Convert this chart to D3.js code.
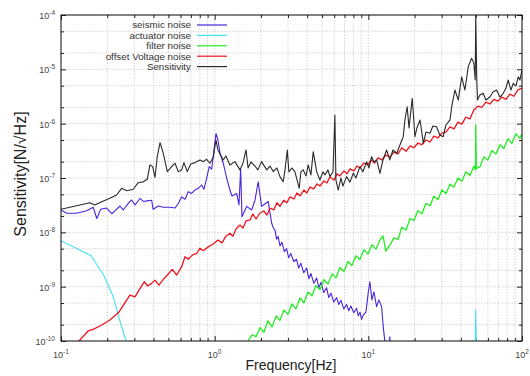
<!DOCTYPE html>
<html>
<head>
<meta charset="utf-8">
<script src="https://cdnjs.cloudflare.com/ajax/libs/d3/7.8.5/d3.min.js"></script>
<style>
  body { margin: 0; background: #fff; }
  svg { display: block; font-family: "Liberation Sans", Arial, sans-serif; }
</style>
</head>
<body>
<div id="chart"></div>
<script>
// series, [frequency Hz, N/rtHz]
const seismic = [[0.1,2.58e-8],[0.109,2.24e-8],[0.126,2.24e-8],[0.147,2.5e-8],[0.162,2.9e-8],[0.171,1.8e-8],[0.181,2.65e-8],[0.198,2.8e-8],[0.214,2.2e-8],[0.225,2.5e-8],[0.242,3.05e-8],[0.254,2.58e-8],[0.274,3.4e-8],[0.288,3.94e-8],[0.303,3.2e-8],[0.327,4.2e-8],[0.343,3.7e-8],[0.364,3.8e-8],[0.389,3.9e-8],[0.398,2.65e-8],[0.430,3.05e-8],[0.463,2.9e-8],[0.512,2.9e-8],[0.552,2.8e-8],[0.58,3.4e-8],[0.61,4.5e-8],[0.641,4.06e-8],[0.673,5.6e-8],[0.708,5.2e-8],[0.744,6.0e-8],[0.782,6.5e-8],[0.823,7.4e-8],[0.851,6.2e-8],[0.887,9.9e-8],[0.922,1.62e-7],[0.956,1.45e-7],[0.99,3.3e-7],
  [1.02,6.6e-7],[1.05,5.0e-7],[1.083,2.9e-7],[1.137,1.87e-7],[1.197,1.0e-7],[1.257,6.0e-8],[1.296,4.67e-8],[1.39,5.2e-8],[1.44,3.2e-8],[1.476,1.5e-7],[1.505,1.94e-8],[1.615,3.0e-8],[1.74,2.58e-8],[1.83,3.9e-8],[1.92,8.5e-8],[2.02,3.0e-8],[2.12,3.32e-8],[2.23,3.7e-8],
  [2.35,1.47e-8],[2.41,1.2e-8],[2.47,1.1e-8],[2.53,7.5e-9],[2.59,8.4e-9],[2.66,5.6e-9],[2.74,6.6e-9],[2.84,4.4e-9],[2.94,5.0e-9],[3.03,3.4e-9],[3.13,4.1e-9],[3.27,2.9e-9],[3.41,3.2e-9],[3.52,2.2e-9],[3.64,2.7e-9],[3.8,1.8e-9],[3.97,2.2e-9],[4.1,1.4e-9],[4.23,1.75e-9],[4.42,1.15e-9],[4.61,1.45e-9],[4.76,9.5e-10],[4.92,1.2e-9],[5.13,7.8e-10],[5.35,9.5e-10],[5.53,6.3e-10],[5.71,7.6e-10],[5.96,5.2e-10],[6.22,6.3e-10],[6.42,4.7e-10],[6.63,5.6e-10],[6.92,3.9e-10],[7.22,4.7e-10],[7.46,3.6e-10],[7.7,4.4e-10],[8.04,3.3e-10],[8.39,4.0e-10],[8.6,2.9e-10],[8.82,3.4e-10],[9.04,2.5e-10],[9.26,3.0e-10],[9.64,3.4e-10],
  [10.0,8.0e-10],[10.24,1.23e-9],[10.55,5.7e-10],[10.87,8.0e-10],[11.32,4.29e-10],[11.72,5.7e-10],[12.2,4.29e-10],[12.5,1.84e-10],[12.8,1e-10],[13.1,5.5e-11],[13.6,5.5e-11],[13.8,1.2e-10],[14.0,5.5e-11],[100,3e-11]]

const actuator = [[0.1,7.0e-9],[0.157,3.7e-9],[0.19,1.6e-9],[0.219,6.5e-10],[0.238,2.7e-10],[0.265,1e-10],[0.28,4e-11],[49.3,3e-11],[50,3.7e-10],[50.7,3e-11],[100,3e-11]]

const filter = [[1.57,6.8e-11],[1.65,1.0e-10],[1.75,1.3e-10],[1.86,1.2e-10],[1.97,1.75e-10],[2.09,1.45e-10],[2.22,2.35e-10],[2.36,1.8e-10],[2.51,2.9e-10],[2.66,2.4e-10],[2.82,3.7e-10],[3.0,3.1e-10],[3.18,4.8e-10],[3.38,3.9e-10],[3.59,6.2e-10],[3.81,5.0e-10],[4.05,8.0e-10],[4.30,6.8e-10],[4.56,1.05e-9],[4.84,8.8e-10],[5.14,1.35e-9],[5.46,1.12e-9],[5.80,1.72e-9],[6.15,1.45e-9],[6.53,2.25e-9],[6.94,1.9e-9],[7.37,2.9e-9],[7.82,2.45e-9],[8.30,3.7e-9],[8.82,3.15e-9],[9.36,4.8e-9],[9.94,4.0e-9],
  [10.55,5.9e-9],[11.2,4.9e-9],[11.9,7.2e-9],[12.45,8.6e-9],[13.0,4.5e-9],[13.8,5.8e-9],[14.7,7.9e-9],[15.6,7.4e-9],[16.5,1.24e-8],[17.6,1.11e-8],[18.7,1.8e-8],[19.8,1.65e-8],[21.0,2.5e-8],[22.3,2.2e-8],[23.7,3.4e-8],[25.2,3.1e-8],[26.7,4.6e-8],[28.4,4.0e-8],[30.1,6.0e-8],[32.0,5.2e-8],[34.0,7.7e-8],[36.1,6.8e-8],[38.3,1.0e-7],[40.6,8.7e-8],[43.1,1.3e-7],[45.8,1.11e-7],[48.6,1.65e-7],[49.8,1.4e-7],[50.0,9.46e-7],[50.5,1.5e-7],[53.2,1.6e-7],[56.5,2.45e-7],[60.0,2.15e-7],[63.7,3.2e-7],[67.6,2.75e-7],[71.8,4.1e-7],[76.2,3.5e-7],[80.9,5.3e-7],[86.0,4.35e-7],[91.3,6.5e-7],[96.9,5.4e-7],[100,6.5e-7]]

const offsetVoltage = [[0.123,6.8e-11],[0.131,1e-10],[0.150,1.53e-10],[0.162,1.64e-10],[0.184,1.97e-10],[0.208,2.44e-10],[0.236,3.3e-10],[0.261,5.1e-10],[0.281,7.0e-10],[0.303,6.5e-10],[0.327,9.3e-10],[0.348,1.23e-9],[0.366,1.03e-9],[0.389,1.15e-9],[0.409,1.32e-9],[0.434,1.07e-9],[0.463,1.36e-9],[0.499,1.71e-9],[0.53,2.08e-9],[0.566,1.64e-9],[0.61,2.33e-9],[0.641,3.56e-9],[0.673,3.2e-9],[0.715,3.8e-9],[0.764,4.1e-9],[0.802,5.1e-9],[0.843,4.6e-9],[0.908,5.4e-9],[0.979,6.1e-9],
  [1.05,7.2e-9],[1.116,6.4e-9],[1.184,8.5e-9],[1.257,9.6e-9],[1.315,8.5e-9],[1.376,1.15e-8],[1.46,1.36e-8],[1.53,1.2e-8],[1.6,1.62e-8],[1.7,1.69e-8],[1.77,2.17e-8],[1.86,1.76e-8],[1.97,2.27e-8],[2.09,2.47e-8],[2.19,2.08e-8],[2.29,2.8e-8],[2.43,2.6e-8],[2.54,3.5e-8],[2.66,3.0e-8],[2.82,3.9e-8],[2.95,3.5e-8],[3.09,4.5e-8],[3.28,4.1e-8],[3.43,5.3e-8],[3.59,4.7e-8],[3.81,6.0e-8],[3.98,5.3e-8],[4.17,6.8e-8],[4.42,6.3e-8],[4.63,7.8e-8],[4.84,7.1e-8],[5.14,8.8e-8],[5.38,8.1e-8],[5.62,1.04e-7],[5.97,9.2e-8],[6.25,1.19e-7],[6.53,1.09e-7],[6.94,1.35e-7],[7.26,1.19e-7],[7.59,1.47e-7],[8.05,1.35e-7],[8.43,1.66e-7],[8.82,1.53e-7],[9.36,1.89e-7],[9.94,1.74e-7],
  [10.4,2.15e-7],[11.0,1.89e-7],[11.55,2.34e-7],[12.26,2.15e-7],[13.0,2.65e-7],[13.8,2.44e-7],[14.7,3.0e-7],[15.6,2.77e-7],[16.5,3.6e-7],[17.6,3.1e-7],[18.7,3.9e-7],[19.8,3.6e-7],[21.0,4.4e-7],[22.3,4.1e-7],[23.7,5.0e-7],[25.2,4.6e-7],[26.7,5.9e-7],[28.4,5.5e-7],[30.1,6.7e-7],[32.0,7.0e-7],[34.0,8.7e-7],[36.1,8.0e-7],[38.3,1.07e-6],[40.6,9.8e-7],[43.1,1.32e-6],[45.8,1.22e-6],[48.6,1.78e-6],[51.6,2.1e-6],[54.8,2.0e-6],[58.2,2.5e-6],[61.8,2.3e-6],[65.6,2.8e-6],[69.7,2.6e-6],[74.0,3.1e-6],[78.6,2.8e-6],[83.4,3.5e-6],[88.6,3.2e-6],[94,4.2e-6],[100,4.5e-6]]

const sensitivity = [[0.1,2.65e-8],[0.114,2.9e-8],[0.133,3.18e-8],[0.154,3.5e-8],[0.166,3.18e-8],[0.184,3.66e-8],[0.208,4.23e-8],[0.230,4.87e-8],[0.248,6.46e-8],[0.268,5.84e-8],[0.295,6.2e-8],[0.318,8.2e-8],[0.343,8.5e-8],[0.364,9.45e-8],[0.379,1.74e-7],[0.395,1.62e-7],[0.409,1.03e-7],[0.423,2.47e-7],[0.441,4.47e-7],[0.463,2.85e-7],[0.492,1.31e-7],[0.525,1.62e-7],[0.552,1.87e-7],[0.58,1.31e-7],[0.61,1.41e-7],[0.631,1.92e-7],[0.663,1.31e-7],[0.698,1.81e-7],[0.744,1.92e-7],[0.802,2.15e-7],[0.843,2.0e-7],[0.887,2.21e-7],[0.931,1.87e-7],[0.979,2.41e-7],
  [1.02,5.0e-7],[1.05,3.28e-7],[1.137,2.15e-7],[1.184,2.54e-7],[1.257,1.74e-7],[1.355,2.0e-7],[1.46,1.41e-7],[1.53,1.89e-7],[1.6,3.28e-7],[1.65,1.53e-7],[1.72,1.97e-7],[1.83,1.66e-7],[1.91,1.41e-7],[2.02,2.0e-7],[2.18,1.41e-7],[2.29,1.66e-7],[2.41,1.31e-7],[2.54,1.53e-7],[2.66,1.06e-7],[2.79,8.5e-8],[2.87,1.41e-7],[2.97,3.28e-7],[3.04,1.3e-7],[3.18,1.53e-7],[3.33,1.3e-7],[3.55,6.46e-8],[3.64,1.3e-7],[3.77,1.41e-7],[3.93,1.09e-7],[4.06,1.74e-7],[4.23,1.14e-7],[4.38,3.05e-7],[4.61,1.31e-7],[4.84,9.2e-8],[5.07,1.3e-7],[5.22,1.14e-7],[5.46,1.41e-7],[5.62,1.06e-7],[5.89,1.3e-7],[6.06,1.44e-6],[6.15,9.2e-8],[6.37,6.0e-8],[6.63,1.0e-7],[6.83,7.1e-8],[7.22,1.06e-7],[7.59,8.4e-8],[7.98,1.22e-7],[8.30,1.0e-7],[8.82,1.62e-7],[9.22,1.3e-7],[9.75,2.0e-7],
  [10.1,1.53e-7],[10.5,2.47e-7],[10.87,1.97e-7],[11.32,2.15e-7],[11.9,1.22e-7],[12.45,2.15e-7],[13.15,3.28e-7],[13.8,2.15e-7],[14.45,3.28e-7],[15.3,2.85e-7],[16.06,4.06e-7],[16.87,5.76e-7],[17.3,1.17e-6],[17.9,2.05e-6],[18.4,8.3e-7],[19.3,2.92e-6],[19.65,1.44e-6],[20.1,5.76e-7],[20.7,8.3e-7],[21.7,1.17e-6],[22.8,4.37e-7],[23.7,7.0e-7],[25.2,6.66e-7],[26.3,9.07e-7],[27.8,8.8e-7],[29.2,6.2e-7],[30.7,5.76e-7],[32.0,9.46e-7],[34.0,1.17e-6],[35.0,2.2e-6],[36.6,4.16e-6],[38.5,2.72e-6],[40.5,7.3e-6],[42.5,4.16e-6],[44.7,1.12e-5],[47.0,1.6e-5],[48.6,1.3e-5],[49.6,6.35e-6],[50.0,1.0e-4],[50.7,7.85e-6],[51.3,2.72e-6],[53.2,3.37e-6],[55.9,3.62e-6],[58.2,2.72e-6],[61.8,3.09e-6],[64.7,3.82e-6],[68.3,4.16e-6],[71.8,3.09e-6],[75.5,3.62e-6],[78.6,4.53e-6],[81.3,6.35e-6],[84.7,4.16e-6],[87.7,5.52e-6],[91.3,4.93e-6],[94.5,7.3e-6],[96.9,6.35e-6],[100,9.7e-6]]

const seriesNames = ["seismic noise", "actuator noise", "filter noise", "offset Voltage noise", "Sensitivity"]
const xTickExps = [-1, 0, 1, 2]
const yTickExps = [-10, -9, -8, -7, -6, -5, -4]

const colors = ["#4b24dc", "#44e0f0", "#22ee22", "#f0141e", "#2a2a2a"]
const widths = [1.1, 1.1, 1.3, 1.3, 1.1]
const series = [seismic, actuator, filter, offsetVoltage, sensitivity]

const width = 530
const height = 376
const margin = {top: 15, right: 8, bottom: 35, left: 61}

let svg = d3.select("#chart")
  .append("svg")
  .attr("width", width)
  .attr("height", height)

let x = d3.scaleLog()
  .domain([0.1, 100])
  .range([margin.left, width - margin.right])
let y = d3.scaleLog()
  .domain([1e-10, 1e-4])
  .range([height - margin.bottom, margin.top])

// grid: every 1..9 along x, 1/2/5 along y
let xGrid = []
for (let e = -1; e < 2; e++) for (let k = 1; k < 10; k++) xGrid.push(k * Math.pow(10, e))
xGrid.push(100)
let yGrid = []
for (let e = -10; e < -4; e++) [1, 2, 5].forEach(k => yGrid.push(k * Math.pow(10, e)))
yGrid.push(1e-4)

svg.append("g")
  .selectAll("line")
  .data(xGrid)
  .enter()
  .append("line")
  .attr("x1", d => x(d)).attr("x2", d => x(d))
  .attr("y1", y(1e-10)).attr("y2", y(1e-4))
  .attr("stroke", "#b8b8b8")
  .attr("stroke-width", 0.7)
  .attr("stroke-dasharray", "1.2,1.6")

svg.append("g")
  .selectAll("line")
  .data(yGrid)
  .enter()
  .append("line")
  .attr("y1", d => y(d)).attr("y2", d => y(d))
  .attr("x1", x(0.1)).attr("x2", x(100))
  .attr("stroke", "#b8b8b8")
  .attr("stroke-width", 0.7)
  .attr("stroke-dasharray", "1.2,1.6")

// ticks pointing inward on all four sides
const isMajor = d => Math.abs(Math.log10(d) - Math.round(Math.log10(d))) < 1e-6
const tickAxis = (axisFn, scale, vals, size, tr) => {
  let g = svg.append("g")
    .attr("transform", tr)
    .call(axisFn(scale).tickValues(vals).tickSize(size).tickSizeOuter(0).tickFormat(""))
  g.select(".domain").remove()
  g.selectAll("line").attr("stroke", "#222")
}
const xMaj = xGrid.filter(isMajor), xMin = xGrid.filter(d => !isMajor(d))
const yMaj = yGrid.filter(isMajor), yMin = yGrid.filter(d => !isMajor(d))
tickAxis(d3.axisBottom, x, xMaj, -5, `translate(0,${y(1e-10)})`)
tickAxis(d3.axisBottom, x, xMin, -3, `translate(0,${y(1e-10)})`)
tickAxis(d3.axisTop, x, xMaj, -5, `translate(0,${y(1e-4)})`)
tickAxis(d3.axisTop, x, xMin, -3, `translate(0,${y(1e-4)})`)
tickAxis(d3.axisLeft, y, yMaj, -5, `translate(${x(0.1)},0)`)
tickAxis(d3.axisLeft, y, yMin, -3, `translate(${x(0.1)},0)`)
tickAxis(d3.axisRight, y, yMaj, -5, `translate(${x(100)},0)`)
tickAxis(d3.axisRight, y, yMin, -3, `translate(${x(100)},0)`)

// curves
svg.append("clipPath").attr("id", "plotclip")
  .append("rect")
  .attr("x", x(0.1)).attr("y", y(1e-4))
  .attr("width", x(100) - x(0.1)).attr("height", y(1e-10) - y(1e-4))

let line = d3.line().x(d => x(d[0])).y(d => y(d[1]))

svg.append("g")
  .attr("clip-path", "url(#plotclip)")
  .selectAll("path")
  .data(series)
  .enter()
  .append("path")
  .attr("d", d => line(d))
  .attr("fill", "none")
  .attr("stroke", (d, i) => colors[i])
  .attr("stroke-width", (d, i) => widths[i])
  .attr("stroke-linejoin", "round")

// frame
svg.append("rect")
  .attr("x", x(0.1)).attr("y", y(1e-4))
  .attr("width", x(100) - x(0.1)).attr("height", y(1e-10) - y(1e-4))
  .attr("fill", "none")
  .attr("stroke", "#111")
  .attr("stroke-width", 1)

// tick labels 10^n
let xl = svg.append("g").selectAll("text").data(xTickExps).enter()
  .append("text")
  .attr("x", d => x(Math.pow(10, d)))
  .attr("y", 358)
  .attr("text-anchor", "middle")
  .attr("font-size", 9)
  .attr("fill", "#444")
xl.append("tspan").text("10")
xl.append("tspan").attr("dy", -4).attr("font-size", 6.5).text(d => d)

let yl = svg.append("g").selectAll("text").data(yTickExps).enter()
  .append("text")
  .attr("x", 55)
  .attr("y", d => y(Math.pow(10, d)) + 4)
  .attr("text-anchor", "end")
  .attr("font-size", 9)
  .attr("fill", "#444")
yl.append("tspan").text("10")
yl.append("tspan").attr("dy", -4).attr("font-size", 6.5).text(d => d)

// axis titles
svg.append("text")
  .attr("x", 291).attr("y", 370)
  .attr("text-anchor", "middle")
  .attr("font-size", 14)
  .attr("fill", "#222")
  .text("Frequency[Hz]")

svg.append("text")
  .attr("transform", "translate(26,174) rotate(-90)")
  .attr("text-anchor", "middle")
  .attr("font-size", 16)
  .attr("fill", "#222")
  .text("Sensitivity[N/\u221AHz]")

// legend
let leg = svg.append("g").selectAll("g").data(seriesNames).enter()
  .append("g")
  .attr("transform", (d, i) => `translate(0,${25 + i * 10.4})`)
leg.append("text")
  .attr("x", 191).attr("y", 3.3)
  .attr("text-anchor", "end")
  .attr("font-size", 9.8)
  .attr("fill", "#333")
  .text(d => d)
leg.append("line")
  .attr("x1", 197).attr("x2", 227)
  .attr("stroke", (d, i) => colors[i])
  .attr("stroke-width", 1.2)
</script>
</body>
</html>
